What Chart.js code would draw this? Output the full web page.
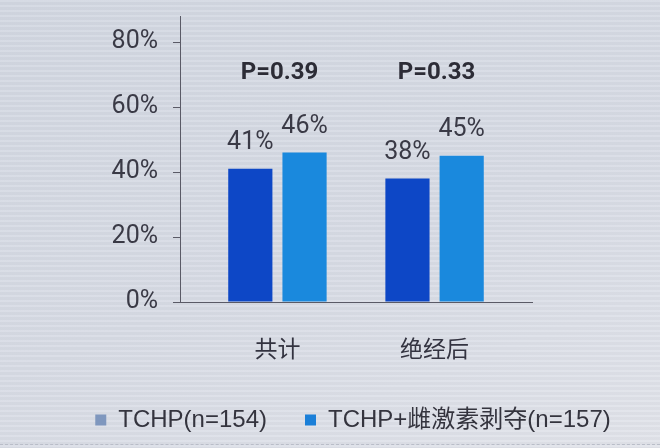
<!DOCTYPE html>
<html>
<head>
<meta charset="utf-8">
<script src="https://cdn.jsdelivr.net/npm/chart.js@4.4.1/dist/chart.umd.min.js"></script>
<style>
  html, body { margin: 0; padding: 0; }
  body {
    width: 660px; height: 448px; overflow: hidden; position: relative;
    background:
      repeating-linear-gradient(180deg, rgba(255,255,255,0.07) 0px, rgba(255,255,255,0.07) 2px, rgba(0,0,0,0.025) 2px, rgba(0,0,0,0.025) 5px),
      linear-gradient(160deg, #d3d8e2 0%, #d8dce5 55%, #e2e4eb 100%);
  }
  #wrap { position: absolute; left: 0; top: 0; width: 660px; height: 448px; }
  #dash { position: absolute; left: 0; top: 444px; width: 660px; border-top: 1px dashed #b9bdc8; }
</style>
</head>
<body>
<div id="wrap"><canvas id="c"></canvas></div>
<div id="dash"></div>
<script>
// data
const categories = ['共计', '绝经后'];
const seriesNames = ['TCHP(n=154)', 'TCHP+雌激素剥夺(n=157)'];
const tchp = [41, 38];
const tchpEd = [46, 45];
const pValues = ['P=0.39', 'P=0.33'];
const yTicks = [0, 20, 40, 60, 80];

const numFont = "Roboto, 'Liberation Sans', sans-serif";
const cjk = "'Noto Sans CJK SC', 'Liberation Sans', sans-serif";
const textColor = '#3a3a46';

Chart.defaults.color = textColor;
Chart.defaults.font.family = numFont;

const toPoints = arr => arr.map((v, i) => ({ x: i, y: v }));
const noPad = s => { s.paddingTop = 0; s.paddingBottom = 0; s.paddingLeft = 0; s.paddingRight = 0; };

// value labels above bars + P values above each group
const labelPlugin = {
  id: 'labels',
  afterDatasetsDraw(chart) {
    const ctx = chart.ctx;
    ctx.save();
    ctx.textAlign = 'center';
    ctx.textBaseline = 'middle';
    ctx.fillStyle = textColor;
    ctx.font = '25px ' + numFont;
    chart.data.datasets.forEach((ds, di) => {
      chart.getDatasetMeta(di).data.forEach((bar, i) => {
        ctx.fillText(ds.data[i].y + '%', bar.x, bar.y - 26);
      });
    });
    const xs = chart.scales.x;
    const ys = chart.scales.y;
    ctx.font = 'bold 24px ' + numFont;
    ctx.fillStyle = '#2c2c36';
    pValues.forEach((p, i) => {
      ctx.fillText(p, xs.getPixelForValue(i) + 2, ys.getPixelForValue(70.5));
    });
    ctx.restore();
  }
};

new Chart(document.getElementById('c'), {
  type: 'bar',
  data: {
    datasets: [
      {
        label: seriesNames[0],
        data: toPoints(tchp),
        backgroundColor: '#0d47c6'
      },
      {
        label: seriesNames[1],
        data: toPoints(tchpEd),
        backgroundColor: '#1a89dd'
      }
    ]
  },
  options: {
    responsive: true,
    maintainAspectRatio: false,
    animation: false,
    categoryPercentage: 0.69,
    barPercentage: 0.815,
    layout: { padding: { left: 46, top: 16, right: 0, bottom: 6 } },
    plugins: {
      tooltip: { enabled: false },
      legend: {
        position: 'bottom',
        labels: {
          boxWidth: 11,
          boxHeight: 11,
          padding: 38,
          color: '#34343e',
          font: { size: 24, family: "'Liberation Sans', 'Noto Sans CJK SC', sans-serif" },
          generateLabels(chart) {
            const fills = ['#7f97be', '#1a7fd8'];
            return chart.data.datasets.map((ds, i) => ({
              text: ds.label,
              fillStyle: fills[i],
              strokeStyle: fills[i],
              lineWidth: 0,
              fontColor: '#34343e',
              datasetIndex: i
            }));
          }
        }
      }
    },
    scales: {
      x: {
        type: 'linear',
        min: -0.62,
        max: 1.62,
        offset: false,
        afterBuildTicks: s => { s.ticks = categories.map((c, i) => ({ value: i })); },
        afterFit: s => { s.height = 68; noPad(s); },
        ticks: {
          padding: 32,
          color: '#333340',
          font: { size: 23, family: cjk },
          callback: v => categories[v]
        },
        grid: { display: false, drawTicks: false },
        border: { display: true, color: '#5a5a66', width: 1 }
      },
      y: {
        min: 0,
        max: 88,
        afterBuildTicks: s => { s.ticks = yTicks.map(v => ({ value: v })); },
        afterFit: s => { s.width = 134; noPad(s); },
        ticks: {
          padding: 15,
          color: textColor,
          font: { size: 25 },
          callback: v => v + '%'
        },
        grid: { drawOnChartArea: false, drawTicks: true, tickLength: 7, color: '#5a5a66' },
        border: { display: true, color: '#5a5a66', width: 1 }
      },
      y2: {
        position: 'right',
        afterFit: s => { s.width = 128; noPad(s); },
        ticks: { display: false },
        grid: { display: false },
        border: { display: false }
      }
    }
  },
  plugins: [labelPlugin]
});
</script>
</body>
</html>
